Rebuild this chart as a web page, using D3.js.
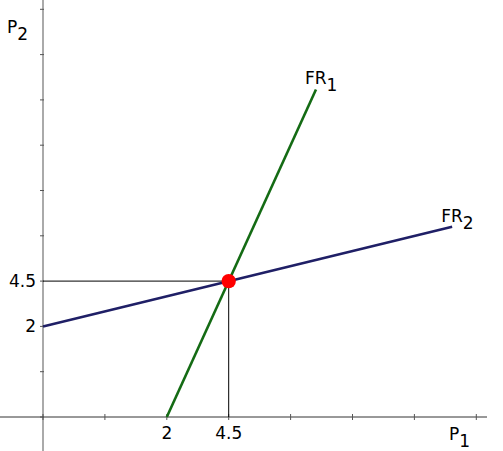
<!DOCTYPE html>
<html><head><meta charset="utf-8">
<script src="https://d3js.org/d3.v7.min.js"></script>
<style>body{margin:0;background:#fff}svg{display:block}text{font-family:"DejaVu Sans",sans-serif}</style>
</head><body>
<svg id="c" width="503" height="451"></svg>
<script>
// data (plot units: one tick = one unit)
const xTicks = [0,1,2,3,4,5,6,7];
const yTicks = [0,1,2,3,4,5,6,7,8,9];
const xTickLabels = [{v:2,t:"2"},{v:3,t:"4.5"}];
const yTickLabels = [{v:2,t:"2"},{v:3,t:"4.5"}];
const fr1 = [[2,0],[4.41,7.23]];
const fr2 = [[0,2],[6.61,4.2]];
const equilibrium = [3,3];
const lineNames = [{name:"FR",sub:"1",at:[4.41,7.23]},{name:"FR",sub:"2",at:[6.61,4.2]}];

const svg = d3.select("#c");
const x = d3.scaleLinear().domain([0,1]).range([43,104.9]);
const y = d3.scaleLinear().domain([0,1]).range([417,371.7]);

// axes
svg.append("line").attr("x1",x(0)).attr("x2",x(0)).attr("y1",0).attr("y2",451)
  .attr("stroke","#aaa").attr("stroke-width",2);
svg.append("line").attr("x1",0).attr("x2",487).attr("y1",y(0)).attr("y2",y(0))
  .attr("stroke","#333").attr("stroke-width",1);
svg.selectAll(".xt").data(xTicks).join("line")
  .attr("x1",d=>x(d)).attr("x2",d=>x(d)).attr("y1",y(0)-3).attr("y2",y(0)+3)
  .attr("stroke","#555").attr("stroke-width",1);
svg.selectAll(".yt").data(yTicks).join("line")
  .attr("x1",x(0)-3).attr("x2",x(0)+1).attr("y1",d=>y(d)).attr("y2",d=>y(d))
  .attr("stroke","#555").attr("stroke-width",1);

// guide lines
svg.append("line").attr("x1",x(0)).attr("x2",x(equilibrium[0])).attr("y1",y(equilibrium[1])).attr("y2",y(equilibrium[1]))
  .attr("stroke","#000").attr("stroke-width",1);
svg.append("line").attr("x1",x(equilibrium[0])).attr("x2",x(equilibrium[0])).attr("y1",y(equilibrium[1])).attr("y2",y(0))
  .attr("stroke","#000").attr("stroke-width",1);

const line = d3.line().x(d=>x(d[0])).y(d=>y(d[1]));
svg.append("path").attr("d",line(fr2)).attr("fill","none").attr("stroke","#1f1f66").attr("stroke-width",2.6);
svg.append("path").attr("d",line(fr1)).attr("fill","none").attr("stroke","#146b14").attr("stroke-width",2.6);

svg.append("circle").attr("cx",x(equilibrium[0])).attr("cy",y(equilibrium[1])).attr("r",7.2).attr("fill","#ff0000");

// tick labels
svg.selectAll(".xl").data(xTickLabels).join("text")
  .attr("x",d=>x(d.v)).attr("y",y(0)+22).attr("text-anchor","middle").attr("font-size",17).text(d=>d.t);
svg.selectAll(".yl").data(yTickLabels).join("text")
  .attr("x",x(0)-7).attr("y",d=>y(d.v)+6).attr("text-anchor","end").attr("font-size",17).text(d=>d.t);

// line names
lineNames.forEach(l=>{
  const t = svg.append("text").attr("x",x(l.at[0])-11).attr("y",y(l.at[1])-5).attr("font-size",17);
  t.append("tspan").text(l.name);
  t.append("tspan").attr("dy",7).text(l.sub);
});

// axis names
const p2 = svg.append("text").attr("x",7).attr("y",33).attr("font-size",17);
p2.append("tspan").text("P"); p2.append("tspan").attr("dy",7).text("2");
const p1 = svg.append("text").attr("x",449).attr("y",440).attr("font-size",17);
p1.append("tspan").text("P"); p1.append("tspan").attr("dy",7).text("1");
</script>
</body></html>
